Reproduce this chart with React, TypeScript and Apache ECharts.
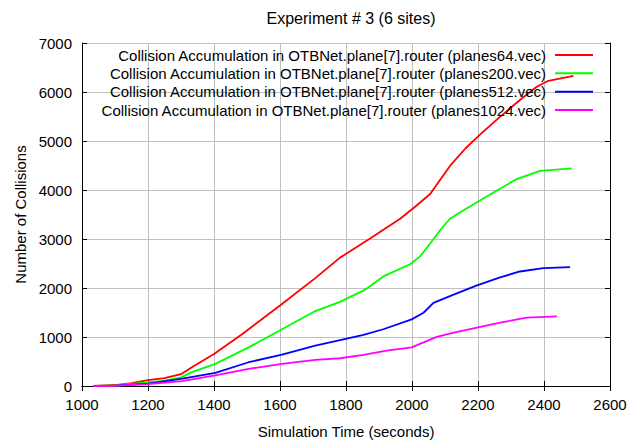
import React, { useEffect, useRef } from "react";
import * as echarts from "echarts";

const seriesNames = [
  "Collision Accumulation in OTBNet.plane[7].router (planes64.vec)",
  "Collision Accumulation in OTBNet.plane[7].router (planes200.vec)",
  "Collision Accumulation in OTBNet.plane[7].router (planes512.vec)",
  "Collision Accumulation in OTBNet.plane[7].router (planes1024.vec)",
];
const seriesColors = ["#ff0000", "#00ff00", "#0000ff", "#ff00ff"];

const redTimes = [1035, 1100, 1150, 1200, 1250, 1300, 1333, 1400, 1485, 1600, 1707, 1782, 1873, 1964, 2014, 2055, 2115, 2161, 2206, 2262, 2327, 2378, 2413, 2489];
const redValues = [0, 20, 60, 120, 160, 240, 384, 653, 1057, 1643, 2202, 2620, 3010, 3414, 3683, 3919, 4491, 4842, 5131, 5468, 5838, 6107, 6229, 6330];

const greenTimes = [1035, 1100, 1200, 1250, 1300, 1333, 1404, 1505, 1606, 1707, 1782, 1858, 1913, 1994, 2024, 2055, 2085, 2115, 2155, 2206, 2256, 2317, 2388, 2484];
const greenValues = [0, 10, 75, 110, 175, 283, 451, 788, 1158, 1529, 1717, 1966, 2236, 2485, 2640, 2909, 3178, 3414, 3582, 3784, 3986, 4222, 4390, 4440];

const blueTimes = [1035, 1100, 1200, 1300, 1404, 1505, 1606, 1707, 1782, 1853, 1913, 1999, 2035, 2065, 2126, 2197, 2267, 2327, 2398, 2479];
const blueValues = [0, 8, 50, 145, 269, 485, 640, 822, 936, 1044, 1158, 1360, 1495, 1697, 1865, 2054, 2216, 2337, 2404, 2424];

const magentaTimes = [1035, 1100, 1200, 1303, 1404, 1505, 1606, 1707, 1782, 1853, 1923, 1999, 2035, 2075, 2126, 2197, 2267, 2348, 2439];
const magentaValues = [0, 5, 40, 101, 216, 350, 451, 532, 566, 633, 721, 788, 889, 1004, 1091, 1192, 1293, 1394, 1420];

const xMin = 1000, xMax = 2600, xStep = 200;
const yMin = 0, yMax = 7000, yStep = 1000;

const titleText = "Experiment # 3 (6 sites)";
const xName = "Simulation Time (seconds)";
const yName = "Number of Collisions";

const zip = (t: number[], v: number[]) => t.map((x, i) => [x, v[i]]);

export default function App() {
  const ref = useRef<HTMLDivElement>(null);
  useEffect(() => {
    if (!ref.current) return;
    const chart = echarts.init(ref.current, null, { renderer: "svg" });
    const font = "Liberation Sans, Arial, sans-serif";
    const fs = 15;
    const all = [
      zip(redTimes, redValues),
      zip(greenTimes, greenValues),
      zip(blueTimes, blueValues),
      zip(magentaTimes, magentaValues),
    ];
    const rowCenters = [55, 73.3, 91.7, 110];
    const axisCommon = {
      axisLine: { show: true, lineStyle: { color: "#000", width: 1 } },
      axisTick: { show: true, inside: true, length: 5, lineStyle: { color: "#000" } },
    };
    const plain = (v: number) => String(v);
    chart.setOption({
      animation: false,
      backgroundColor: "#fff",
      textStyle: { fontFamily: font },
      title: {
        text: titleText,
        left: 346,
        top: 5,
        textAlign: "center",
        textStyle: { fontSize: 16, fontWeight: "normal", color: "#000", fontFamily: font },
      },
      legend: seriesNames.map((n, i) => ({
        data: [n],
        orient: "horizontal",
        right: 43,
        top: rowCenters[i] - 8,
        padding: 0,
        align: "right",
        icon: "rect",
        itemWidth: 38,
        itemHeight: 2,
        selectedMode: false,
        textStyle: { fontSize: fs, color: "#000", fontFamily: font, lineHeight: 16, padding: [0, 4, 0, 0] },
      })),
      grid: { left: 82, right: 26, top: 43, bottom: 55, containLabel: false },
      xAxis: [
        {
          type: "value",
          min: xMin,
          max: xMax,
          interval: xStep,
          position: "bottom",
          ...axisCommon,
          axisLabel: { fontSize: fs, color: "#000", margin: 11, fontFamily: font, formatter: plain },
          splitLine: { show: true, lineStyle: { color: "#c0c0c0", width: 1 } },
          name: xName,
          nameLocation: "middle",
          nameGap: 38,
          nameTextStyle: { fontSize: fs, color: "#000", fontFamily: font },
        },
        {
          type: "value",
          min: xMin,
          max: xMax,
          interval: xStep,
          position: "top",
          ...axisCommon,
          axisLabel: { show: false },
          splitLine: { show: false },
        },
      ],
      yAxis: [
        {
          type: "value",
          min: yMin,
          max: yMax,
          interval: yStep,
          position: "left",
          ...axisCommon,
          axisLabel: { fontSize: fs, color: "#000", margin: 10, fontFamily: font, formatter: plain },
          splitLine: { show: true, lineStyle: { color: "#c0c0c0", width: 1 } },
          name: yName,
          nameLocation: "middle",
          nameGap: 52,
          nameTextStyle: { fontSize: fs, color: "#000", fontFamily: font },
        },
        {
          type: "value",
          min: yMin,
          max: yMax,
          interval: yStep,
          position: "right",
          ...axisCommon,
          axisLabel: { show: false },
          splitLine: { show: false },
        },
      ],
      series: seriesNames.map((n, i) => ({
        name: n,
        type: "line",
        xAxisIndex: 0,
        yAxisIndex: 0,
        data: all[i],
        showSymbol: false,
        symbol: "none",
        color: seriesColors[i],
        lineStyle: { color: seriesColors[i], width: 1.8 },
      })),
    });
    return () => chart.dispose();
  }, []);
  return <div ref={ref} style={{ position: "fixed", left: 0, top: 0, width: 636, height: 444 }} />;
}
